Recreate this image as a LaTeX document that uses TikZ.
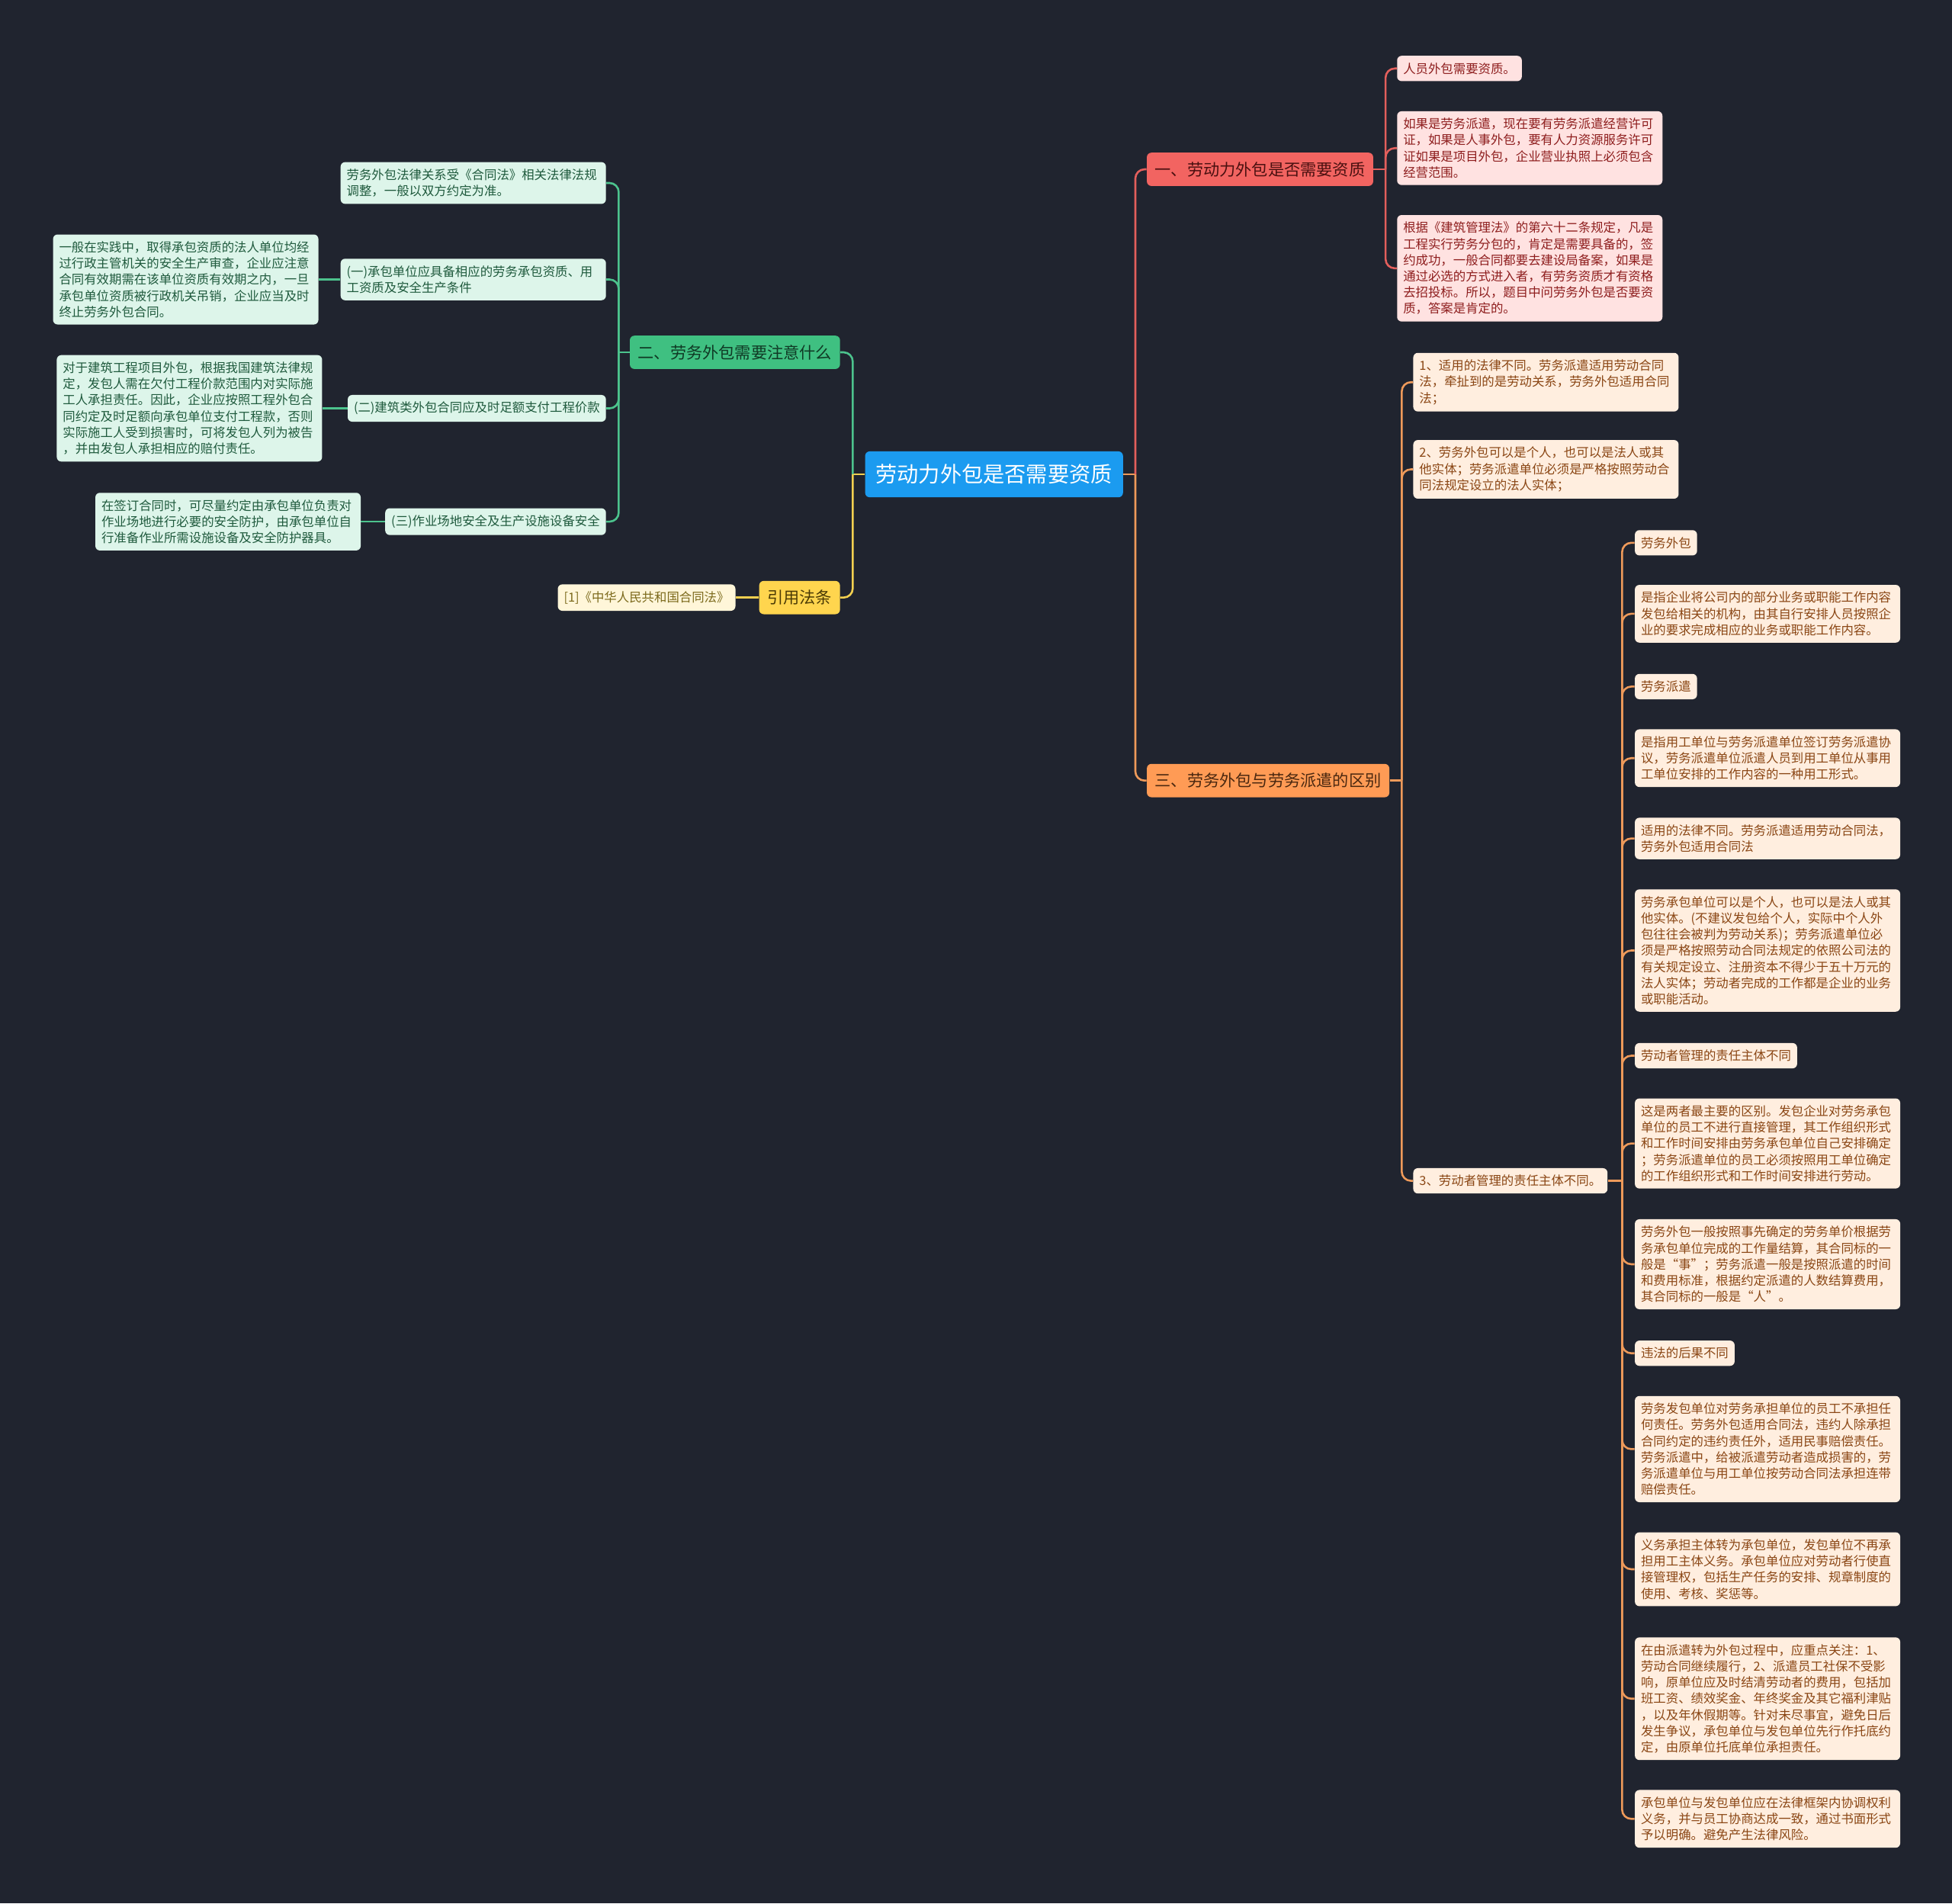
\documentclass[tikz,border=0pt]{standalone}
\usepackage{fontspec}
\setmainfont{Noto Sans CJK SC}
\definecolor{BgNavy}{HTML}{20242F}
\definecolor{RootBlue}{HTML}{1B9BF0}
\definecolor{RedMain}{HTML}{F26461}
\definecolor{RedLeaf}{HTML}{FFE2E1}
\definecolor{RedDark}{HTML}{4A1010}
\definecolor{RedText}{HTML}{8E1E1E}
\definecolor{RedLine}{HTML}{E35F5C}
\definecolor{OrgMain}{HTML}{FF9B55}
\definecolor{OrgLeaf}{HTML}{FFEEDF}
\definecolor{OrgDark}{HTML}{4A2810}
\definecolor{OrgText}{HTML}{8A4614}
\definecolor{OrgLine}{HTML}{EE9A5A}
\definecolor{GrnMain}{HTML}{3FC081}
\definecolor{GrnLeaf}{HTML}{DDF5EA}
\definecolor{GrnDark}{HTML}{103A25}
\definecolor{GrnText}{HTML}{1F5A3D}
\definecolor{GrnLine}{HTML}{4CC38D}
\definecolor{YelMain}{HTML}{FFD54E}
\definecolor{YelLeaf}{HTML}{FFF6D9}
\definecolor{YelDark}{HTML}{4A3A05}
\definecolor{YelText}{HTML}{7C6A1C}
\definecolor{YelLine}{HTML}{F2D050}

\begin{document}
\begin{tikzpicture}[x=0.8163pt,y=-0.8163pt,
  root/.style={rounded corners=3pt,fill=RootBlue,text=white,
               font=\fontsize{14.1}{16}\selectfont,inner xsep=7pt,inner ysep=8.5pt},
  topic/.style={rounded corners=3pt,font=\fontsize{10.6}{12}\selectfont,
                inner xsep=5.3pt,inner ysep=6pt},
  leaf/.style={rounded corners=3pt,font=\fontsize{8.2}{10.6}\selectfont,
               inner xsep=4pt,inner ysep=4.5pt,align=left},
  note/.style={leaf,text width=166pt},
  link/.style={line width=1.3pt,rounded corners=6pt},
]
\fill[BgNavy] (0,0) rectangle (1568,1529);

% root
\node[root] (root) at (798.5,381) {劳动力外包是否需要资质};

% first level
\node[topic,anchor=west,fill=RedMain,text=RedDark] (red1) at (921,136) {一、劳动力外包是否需要资质};
\node[topic,anchor=west,fill=OrgMain,text=OrgDark] (org1) at (921,627) {三、劳务外包与劳务派遣的区别};
\node[topic,anchor=east,fill=GrnMain,text=GrnDark] (grn1) at (675,283) {二、劳务外包需要注意什么};
\node[topic,anchor=east,fill=YelMain,text=YelDark] (yel1) at (675,480) {引用法条};

% red branch
\node[leaf,anchor=west,fill=RedLeaf,text=RedText] (r1) at (1122,55) {人员外包需要资质。};
\node[note,anchor=west,fill=RedLeaf,text=RedText] (r2) at (1122,119) {如果是劳务派遣，现在要有劳务派遣经营许可\\证，如果是人事外包，要有人力资源服务许可\\证如果是项目外包，企业营业执照上必须包含\\经营范围。};
\node[note,anchor=west,fill=RedLeaf,text=RedText] (r3) at (1122,215.5) {根据《建筑管理法》的第六十二条规定，凡是\\工程实行劳务分包的，肯定是需要具备的，签\\约成功，一般合同都要去建设局备案，如果是\\通过必选的方式进入者，有劳务资质才有资格\\去招投标。所以，题目中问劳务外包是否要资\\质，答案是肯定的。};

% orange branch
\node[note,anchor=west,fill=OrgLeaf,text=OrgText] (o1) at (1135,307) {1、适用的法律不同。劳务派遣适用劳动合同\\法，牵扯到的是劳动关系，劳务外包适用合同\\法；};
\node[note,anchor=west,fill=OrgLeaf,text=OrgText] (o2) at (1135,377) {2、劳务外包可以是个人，也可以是法人或其\\他实体；劳务派遣单位必须是严格按照劳动合\\同法规定设立的法人实体；};
\node[leaf,anchor=west,fill=OrgLeaf,text=OrgText] (o3) at (1135,948.5) {3、劳动者管理的责任主体不同。};

% details of 3
\node[leaf,anchor=west,fill=OrgLeaf,text=OrgText] (d1) at (1313,436) {劳务外包};
\node[note,anchor=west,fill=OrgLeaf,text=OrgText] (d2) at (1313,493) {是指企业将公司内的部分业务或职能工作内容\\发包给相关的机构，由其自行安排人员按照企\\业的要求完成相应的业务或职能工作内容。};
\node[leaf,anchor=west,fill=OrgLeaf,text=OrgText] (d3) at (1313,551.5) {劳务派遣};
\node[note,anchor=west,fill=OrgLeaf,text=OrgText] (d4) at (1313,609) {是指用工单位与劳务派遣单位签订劳务派遣协\\议，劳务派遣单位派遣人员到用工单位从事用\\工单位安排的工作内容的一种用工形式。};
\node[note,anchor=west,fill=OrgLeaf,text=OrgText] (d5) at (1313,673.5) {适用的法律不同。劳务派遣适用劳动合同法，\\劳务外包适用合同法};
\node[note,anchor=west,fill=OrgLeaf,text=OrgText] (d6) at (1313,763.5) {劳务承包单位可以是个人，也可以是法人或其\\他实体。(不建议发包给个人，实际中个人外\\包往往会被判为劳动关系)；劳务派遣单位必\\须是严格按照劳动合同法规定的依照公司法的\\有关规定设立、注册资本不得少于五十万元的\\法人实体；劳动者完成的工作都是企业的业务\\或职能活动。};
\node[leaf,anchor=west,fill=OrgLeaf,text=OrgText] (d7) at (1313,848) {劳动者管理的责任主体不同};
\node[note,anchor=west,fill=OrgLeaf,text=OrgText] (d8) at (1313,918.5) {这是两者最主要的区别。发包企业对劳务承包\\单位的员工不进行直接管理，其工作组织形式\\和工作时间安排由劳务承包单位自己安排确定\\；劳务派遣单位的员工必须按照用工单位确定\\的工作组织形式和工作时间安排进行劳动。};
\node[note,anchor=west,fill=OrgLeaf,text=OrgText] (d9) at (1313,1015.5) {劳务外包一般按照事先确定的劳务单价根据劳\\务承包单位完成的工作量结算，其合同标的一\\般是“事”；劳务派遣一般是按照派遣的时间\\和费用标准，根据约定派遣的人数结算费用，\\其合同标的一般是“人”。};
\node[leaf,anchor=west,fill=OrgLeaf,text=OrgText] (d10) at (1313,1087) {违法的后果不同};
\node[note,anchor=west,fill=OrgLeaf,text=OrgText] (d11) at (1313,1164) {劳务发包单位对劳务承担单位的员工不承担任\\何责任。劳务外包适用合同法，违约人除承担\\合同约定的违约责任外，适用民事赔偿责任。\\劳务派遣中，给被派遣劳动者造成损害的，劳\\务派遣单位与用工单位按劳动合同法承担连带\\赔偿责任。};
\node[note,anchor=west,fill=OrgLeaf,text=OrgText] (d12) at (1313,1260.5) {义务承担主体转为承包单位，发包单位不再承\\担用工主体义务。承包单位应对劳动者行使直\\接管理权，包括生产任务的安排、规章制度的\\使用、考核、奖惩等。};
\node[note,anchor=west,fill=OrgLeaf,text=OrgText] (d13) at (1313,1364.5) {在由派遣转为外包过程中，应重点关注：1、\\劳动合同继续履行，2、派遣员工社保不受影\\响，原单位应及时结清劳动者的费用，包括加\\班工资、绩效奖金、年终奖金及其它福利津贴\\，以及年休假期等。针对未尽事宜，避免日后\\发生争议，承包单位与发包单位先行作托底约\\定，由原单位托底单位承担责任。};
\node[note,anchor=west,fill=OrgLeaf,text=OrgText] (d14) at (1313,1461) {承包单位与发包单位应在法律框架内协调权利\\义务，并与员工协商达成一致，通过书面形式\\予以明确。避免产生法律风险。};

% green branch
\node[note,anchor=east,fill=GrnLeaf,text=GrnText] (g1) at (487,147) {劳务外包法律关系受《合同法》相关法律法规\\调整，一般以双方约定为准。};
\node[note,anchor=east,fill=GrnLeaf,text=GrnText] (g2) at (487,224.5) {(一)承包单位应具备相应的劳务承包资质、用\\工资质及安全生产条件};
\node[leaf,anchor=east,fill=GrnLeaf,text=GrnText] (g3) at (487,328) {(二)建筑类外包合同应及时足额支付工程价款};
\node[leaf,anchor=east,fill=GrnLeaf,text=GrnText] (g4) at (487,419) {(三)作业场地安全及生产设施设备安全};
\node[note,anchor=east,fill=GrnLeaf,text=GrnText] (g2a) at (256,224.5) {一般在实践中，取得承包资质的法人单位均经\\过行政主管机关的安全生产审查，企业应注意\\合同有效期需在该单位资质有效期之内，一旦\\承包单位资质被行政机关吊销，企业应当及时\\终止劳务外包合同。};
\node[note,anchor=east,fill=GrnLeaf,text=GrnText] (g3a) at (259,328) {对于建筑工程项目外包，根据我国建筑法律规\\定，发包人需在欠付工程价款范围内对实际施\\工人承担责任。因此，企业应按照工程外包合\\同约定及时足额向承包单位支付工程款，否则\\实际施工人受到损害时，可将发包人列为被告\\，并由发包人承担相应的赔付责任。};
\node[note,anchor=east,fill=GrnLeaf,text=GrnText] (g4a) at (290,419) {在签订合同时，可尽量约定由承包单位负责对\\作业场地进行必要的安全防护，由承包单位自\\行准备作业所需设施设备及安全防护器具。};

% yellow branch
\node[leaf,anchor=east,fill=YelLeaf,text=YelText] (y1) at (591,480) {[1]《中华人民共和国合同法》};

% junctions
\coordinate (cR) at (912,381);
\coordinate (cL) at (685,381);
\coordinate (rJ) at (1113,136);
\coordinate (oJ) at (1126,627);
\coordinate (dJ) at (1303,948.5);
\coordinate (gJ) at (497,283);

% connectors
\draw[link,OrgLine] (root.east) -- (cR);
\draw[link,RedLine] (cR) |- (red1.west);
\draw[link,OrgLine] (cR) |- (org1.west);
\draw[link,YelLine] (root.west) -- (cL);
\draw[link,GrnLine] (cL) |- (grn1.east);
\draw[link,YelLine] (cL) |- (yel1.east);

\draw[link,RedLine] (red1.east) -- (rJ);
\foreach \n in {r1,r2,r3}
  \draw[link,RedLine] (rJ) |- (\n.west);

\draw[link,OrgLine] (org1.east) -- (oJ);
\foreach \n in {o1,o2,o3}
  \draw[link,OrgLine] (oJ) |- (\n.west);

\draw[link,OrgLine] (o3.east) -- (dJ);
\foreach \n in {d1,d2,d3,d4,d5,d6,d7,d8,d9,d10,d11,d12,d13,d14}
  \draw[link,OrgLine] (dJ) |- (\n.west);

\draw[link,GrnLine] (grn1.west) -- (gJ);
\foreach \n in {g1,g2,g3,g4}
  \draw[link,GrnLine] (gJ) |- (\n.east);
\foreach \a/\b in {g2/g2a,g3/g3a,g4/g4a}
  \draw[link,GrnLine] (\a.west) -- (\b.east);

\draw[link,YelLine] (yel1.west) -- (y1.east);
\end{tikzpicture}
\end{document}
